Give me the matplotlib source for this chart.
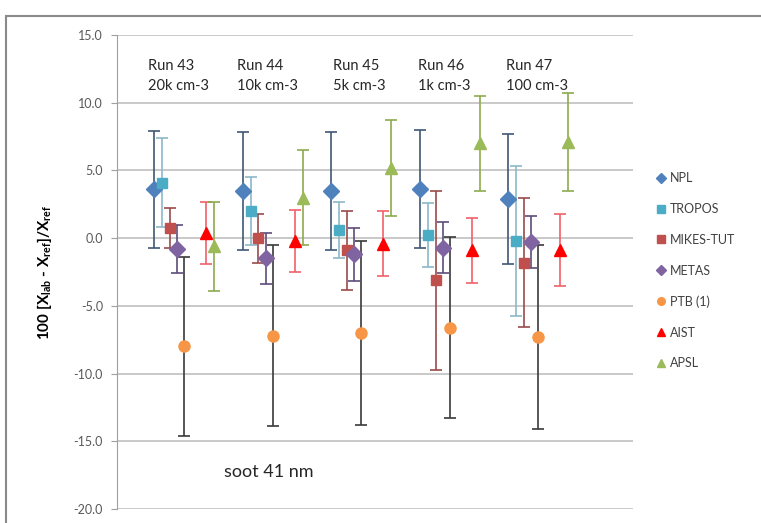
import matplotlib
matplotlib.use("Agg")
import matplotlib.pyplot as plt
from matplotlib.lines import Line2D
from matplotlib.patches import Rectangle

plt.rcParams['font.family'] = ['Lato', 'DejaVu Sans']
plt.rcParams['mathtext.fontset'] = 'custom'
plt.rcParams['mathtext.rm'] = 'Lato'
plt.rcParams['mathtext.bf'] = 'Lato:bold'

# runs and lab offsets on the x axis
runs = [43, 44, 45, 46, 47]
run_text = ["20k cm-3", "10k cm-3", "5k cm-3", "1k cm-3", "100 cm-3"]
labs = ["NPL", "TROPOS", "MIKES-TUT", "METAS", "PTB (1)", "AIST", "APSL"]
offsets = [0.0, 0.09, 0.18, 0.26, 0.34, 0.59, 0.68]

# deviation values, one list per lab (runs 43..47)
npl = [3.6, 3.5, 3.5, 3.6, 2.9]
tropos = [4.1, 2.0, 0.6, 0.25, -0.2]
mikes = [0.75, 0.0, -0.9, -3.1, -1.8]
metas = [-0.8, -1.5, -1.2, -0.7, -0.3]
ptb = [-8.0, -7.2, -7.0, -6.6, -7.3]
aist = [0.4, -0.2, -0.4, -0.9, -0.85]
apsl = [-0.6, 3.0, 5.15, 7.0, 7.1]

# expanded uncertainties
npl_err = [4.3, 4.35, 4.35, 4.35, 4.8]
tropos_err = [3.3, 2.5, 2.1, 2.35, 5.55]
mikes_err = [1.5, 1.8, 2.9, 6.6, 4.75]
metas_err = [1.8, 1.9, 1.95, 1.9, 1.9]
ptb_err = [6.6, 6.7, 6.8, 6.7, 6.8]
aist_err = [2.3, 2.3, 2.4, 2.4, 2.65]
apsl_err = [3.3, 3.5, 3.55, 3.5, 3.6]

values = [npl, tropos, mikes, metas, ptb, aist, apsl]
errors = [npl_err, tropos_err, mikes_err, metas_err, ptb_err, aist_err, apsl_err]
markers = ['D', 's', 's', 'D', 'o', '^', '^']
colors = ['#4F81BD', '#4BACC6', '#C0504D', '#8064A2', '#F79646', '#FF0000', '#9BBB59']
ecolors = ['#3F5873', '#8DB8C8', '#9A4A4A', '#5E4C7A', '#3A3A3A', '#F0606A', '#8CAA4E']
msizes = [8, 7.5, 7.5, 8, 8, 8, 8]

fig = plt.figure(figsize=(7.61, 5.23), dpi=100)
ax = fig.add_axes([117/761, 14/523, 516/761, 474/523])

for i in range(len(labs)):
    xs = [k + 1 + offsets[i] for k in range(len(runs))]
    ax.errorbar(xs, values[i], yerr=errors[i], fmt=markers[i], color=colors[i],
                ms=msizes[i], mec=colors[i], ecolor=ecolors[i], elinewidth=1.2,
                capsize=4, capthick=1.2, zorder=3)

ax.set_xlim(0.582, 6.41)
ax.set_ylim(-20, 15)
ax.set_yticks([15, 10, 5, 0, -5, -10, -15, -20])
ax.set_yticklabels(['%.1f' % v for v in [15, 10, 5, 0, -5, -10, -15, -20]])
ax.set_xticks([])
ax.grid(axis='y', color='#C0C0C0', lw=1.2)
ax.set_axisbelow(True)
for s in ['top', 'right', 'bottom']:
    ax.spines[s].set_visible(False)
ax.spines['left'].set_color('#A0A0A0')
ax.tick_params(axis='y', colors='#A0A0A0', labelcolor='#595959', labelsize=9,
               length=4, pad=6)

ax.set_ylabel(r'100 [X$_{\mathbf{lab}}$ - X$_{\mathbf{ref}}$]/X$_{\mathbf{ref}}$',
              fontsize=11, fontweight='bold', color='black', labelpad=14)

text_x = [0.932, 1.938, 3.023, 3.983, 4.977]
for k in range(len(runs)):
    ax.text(text_x[k], 12.7, "Run %d" % runs[k], fontsize=10.5, color='#262626',
            ha='left', va='center')
    ax.text(text_x[k], 11.25, run_text[k], fontsize=10.5, color='#262626',
            ha='left', va='center')
ax.text(2.3, -17.3, "soot 41 nm", fontsize=13, color='#262626', ha='center', va='center')

handles = [Line2D([], [], ls='none', marker=markers[i], color=colors[i],
                  ms=5.5) for i in range(len(labs))]
fig.legend(handles, labs, loc='upper left', bbox_to_anchor=(650/761, 1 - 166/523),
           frameon=False, fontsize=9, labelcolor='#404040', handlelength=0.8,
           handletextpad=0.3, labelspacing=1.5, borderpad=0)

fig.patches.append(Rectangle((6/761, -0.1), 1.2, 1.1 - 16/523, transform=fig.transFigure,
                             fill=False, ec='#8A8A8A', lw=1.5))

fig.savefig("out.png", dpi=100)
